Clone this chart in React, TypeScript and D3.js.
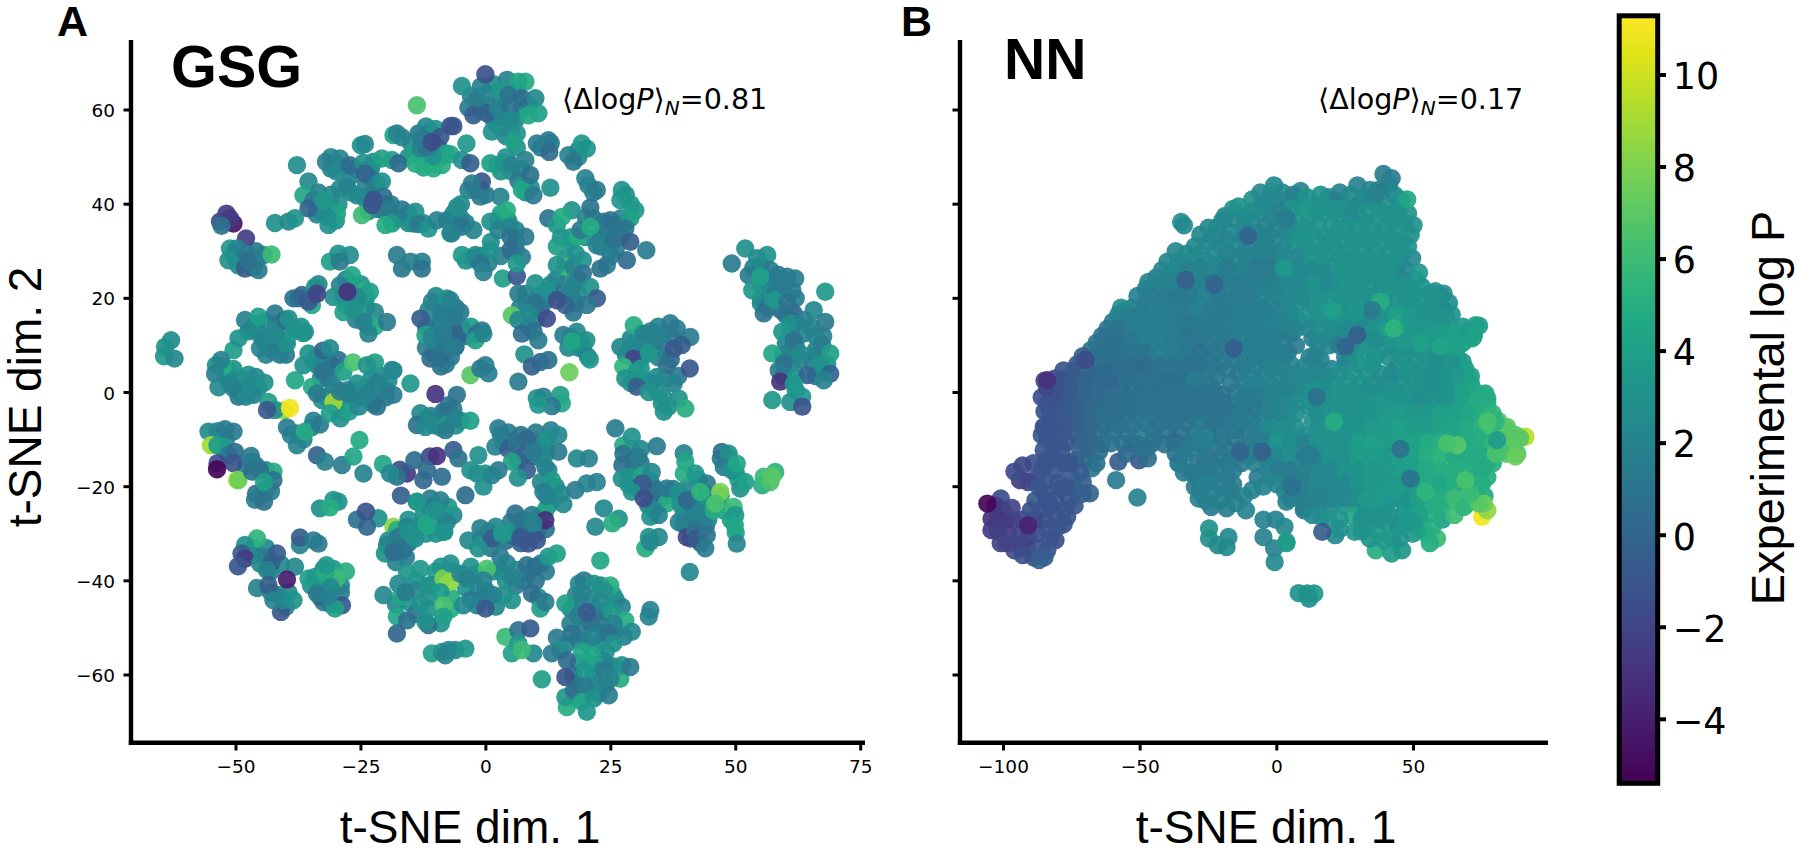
import React from "react";
import * as d3 from "d3";

type P = [number, number, number];

// Panel A (GSG): t-SNE dim 1, t-SNE dim 2, experimental log P. Hidden (under-layer) molecules first.
const gsgUnder: P[] = [
[-1,65,2],[1.5,65.5,2.5],[3,62,1.5],[6,64,3],[0,61,1],[-1,60,1.5],[1.5,58,1],[3.5,58.5,2],[6,58,2],[7,60,2.5],[8.5,61,2.5],[-3.5,60.5,1.5],[2.5,56.5,2.5],[5,55.5,3],[-3,63,2],[6.2,52,3],[4,54.5,2.5],
[-12,49.5,3],[-11,48.5,4],[-12.5,47.8,4.5],[-9.5,52,2],[-13.5,55,1.5],[-11,55.5,2],[-9,50,3.5],[-15,53,2.5],[-15.5,50,3],[-12,56.5,2.5],
[-31,47.5,2],[-28.5,48,2],[-31,50,2.5],[-26,47.5,1],[-23,47.5,1.5],[-22.5,49,3],[-23,45.5,1],[-24,44,2],[-27,46,2],
[-33.5,42.5,2],[-33,38.5,2.5],[-31,39.5,3],[-31,42,2.5],[-30,36.5,3],[-33.8,37.8,2.5],[-29.5,40,3],
[-27,42.5,2.5],[-24,41,2],[-23,42,1.5],[-21.5,39,.5],[-20,40,1],[-19,38,2],[-18,37,2.5],[-23.5,38.5,3],[-19,40,1.5],[-15.5,38,2],[-12.5,36,2.5],[-15.5,36,2.5],
[-50,28.5,2],[-48.5,27.5,1],[-46,28,1.5],[-46,30,1.5],[-46.5,26.5,1],[-49.5,27,2.5],[-50.5,29.5,2.5],
[-28,24,2],[-28.5,20.5,2.5],[-26.5,22.8,2.5],[-25,23,3],[-26,19,3],[-24,20,3],[-26,15.5,2],[-24,18,3],[-23.5,14,3],[-27,19,3.5],[-28,18.5,3],
[-37.5,20,.5],[-35,20,-.5],[-33.5,23,2.5],
[-46,14.5,2.5],[-44,15,2.5],[-42,14.5,2.5],[-41,13,2],[-39,13,2.5],[-40,11,2],[-37,14,3],[-43,11,2],[-45,12,2.5],[-47,13.5,3],[-41,10,2],[-44.5,11,2],[-44,8,2],[-42.5,9,1.5],[-40,8,1.5],[-47.5,13,2.5],
[-52,3.5,2.5],[-51,3,2.5],[-48,2,2.5],[-46.5,-.5,2],[-45.5,1,2.5],[-47.5,3.8,3],[-50,1.5,2.5],[-49,-.2,2],[-48,.5,2.5],[-50.5,5,3],[-52,5,3],
[-34.5,6.5,3],[-33.5,5.5,2],[-31.5,6.5,1.5],[-33,3,2],[-31.5,3,1],[-30.5,5.5,1],[-34,7.5,2.5],[-28.5,-.5,2],[-26.5,.5,2],[-24,1,2],[-23,2.8,2.5],[-21,3.5,2.5],[-20,.5,2],[-19.5,2.5,2.5],[-27.5,-2,2.5],[-25,-1,2],[-23,-1.5,2],[-30,-3,3],[-28.5,-4,3.5],[-26.5,-1.5,2],[-30.5,1.5,2],[-32,-1,2],[-22.5,-2.5,1.5],[-20,-1,1.5],
[-35,-7.5,2],[-36.5,-10,2.5],[-39,-9,2],[-34.5,-6,2],
[-12,-5.5,2.5],[-9,-5,2.5],[-9,-7.5,3],[-6.5,-3.5,1.5],[-8.5,-4,1.2],[-11,-5,2],[-6,-7,3],[-5,-6,3],
[-9,14,1.5],[-7,13.5,1.5],[-10,10,1],[-8,9,1],[-8,12,1],[-7,7.5,1.2],[-12,9.5,1.5],[-9,16,1.5],[-7,15,1.5],[-10,14,2],[-9,18,2],[-10,20.5,2.5],[-12,14,1],[-11.5,17.5,2],[-9,5.5,1],[-8,6,1.5],[-6,18,2],[-5,14,1],[-3.8,12,1.5],[-6,11,1],
[3,-9,1.8],[4.5,-8.5,1.5],[5,-10.5,.5],[7,-9,1],[3.5,-10.5,1.5],[10,-10.5,1.5],[10,-8.5,1.5],[12,-11.5,2.5],[9.5,-13.5,1.5],[11,-14,2],[12,-13,2.5],[13,-8,2],[12.5,-16.5,2.5],[6.5,-14.5,2.5],[13,-20,2.5],[12.5,-21,2],[15,-21.5,2.5],[11,-19,2.5],[14,-20,2.5],
[7.5,-27,1],[5,-27.5,1.5],[8,-29,.5],[10.5,-29,.5],[12,-29,1],[10,-30,.3],[5.5,-30.5,1.5],[4,-31.5,.5],[-1,-31,2.5],[.5,-29.5,1],[2.5,-31,2],[2,-28.5,2.5],[7,-32,0],[10.5,-26.5,2],[12.5,-24,3],[1,-33,1.5],
[-17.5,-32.5,1],[-15.5,-32,1.5],[-14,-29,3],[-12,-30,3],[-10,-30,3],[-12.5,-26,3],[-11,-25,2.5],[-9.5,-28,3],[-8.5,-26,3],[-13,-28,3],[-15.5,-27,3],[-10.5,-24,3],[-6.5,-26,2.5],[-16,-35,1.5],[-18,-36,2],
[-48,-15.5,1.5],[-47,-13.5,1.5],[-46,-15.5,1.5],[-44,-16.5,2],[-44,-20.5,2],[-44.5,-21.5,2],[-46,-21.5,1],[-43,-21,1.5],[-52,-10,2.5],[-52.5,-12,3.5],
[-46.5,-33,3],[-44,-33,2.5],[-46.5,-34.5,2],[-44,-35,1.5],[-43,-38,2],[-41,-36.5,2.5],[-41.5,-43,2.5],[-43,-42.5,1.5],[-40,-45.5,2],[-39.5,-42.5,2.5],
[-33.5,-40.5,3],[-31,-40,3.5],[-32.5,-37.5,2.5],[-30.5,-37.5,3.5],[-35,-41,3],[-29,-41,2.5],[-32.5,-44.5,1.5],[-31,-45,1],[-28,-38,5],[-29,-42.5,2],
[-14,-40,3],[-15.5,-44.5,3],[-18,-45,2.5],[-14,-47,1],[-14,-42,2.5],[-11.5,-41,3],[-10,-38,3.5],[-11.5,-46,3],[-11.5,-43.5,3],
[-9,-37,3],[-7,-43.5,5],[-7,-46,5],[-6.5,-38,4],[-9,-49,3],
[-4,-41.5,3],[-3,-37,3],[-1.5,-42,2.5],[0,-42,2],[1.5,-38,3],[3,-38,2.5],[-3,-44,1.5],[0,-43.5,1.5],[2,-45.5,2.5],[3.5,-43,3],[6,-41,1.5],[7.5,-40,1.5],[8.5,-38.5,1],[10,-40,1],[12,-38,1.5],[-2,-38.5,3],[4,-40,3],[10.5,-43.5,3],
[18,-43,2],[17,-46,2],[18.5,-47.5,1],[21,-44,2],[21.5,-47,.5],[23.5,-46.5,1.5],[20,-49.5,1.5],[18.5,-52.5,1.5],[21,-49,1],[23,-49,1],[20,-53,2],[16,-53.5,2],[22.5,-53.5,3],[24,-55,3],[23,-41,2.5],[25.5,-43,3],[26,-44,3],[18,-45,2],[23.5,-51,1.5],[26,-50.5,1.5],
[21,-57.5,3],[18.5,-57.5,3],[21.5,-60,3],[17.5,-60,1],[22,-62,2.5],[18,-61.5,1.5],[24,-62,2],[21,-63,3],[18,-65,3.5],[22.5,-64,2.5],[23.5,-57,2.5],[26,-58.5,2.5],[25,-58,2],
[29,-12,3],[31,-12,2.5],[29.5,-14,1.5],[31,-15,1.5],[29.5,-16,1.5],[28.5,-19.5,3],[30,-18,2.5],[33,-19,1.5],[33.5,-21,.5],[34,-23,1.5],[30.5,-20.5,2],[29.5,-18.5,3.5],[32.5,-24,2.5],[36,-21.5,2],[34,-20.5,1],
[37.5,-20.5,2],[40.5,-20,2],[41,-23,2],[39.5,-25,2.5],[42,-24,3],[43.5,-23,2.5],[42.5,-18.5,3],[41,-26.5,2],[44,-21.5,3],[39.5,-28,1.5],[44,-28.5,1],[42.5,-27.5,1.5],[41,-31,-1],[43,-32,.5],[47,-22,5],[47.5,-25,4],[44,-25,3],[44.5,-27,2],
[48.5,-14.5,3],[47,-14,1.5],[50,-17,3],[50.5,-18.5,4],[48.5,-14,2.5],[49,-15.2,3.5],[49,-27,4],[50,-29.8,4],
[53.5,26.5,2],[55,27,2],[56,24,2],[57.5,23,2],[58.5,25,1.5],[59.5,23.5,1.5],[56,22,2],[55,20,3],[58,21,1.5],[55,19,2.5],[55,23,2.5],[62,20,1.5],[60,16.5,.5],[56.5,18,1],[59,17.5,1],[61,13,2],[62,15,1.5],[60,10.5,2],[62,10,2],[63,7,2],[60.5,8.5,2],[59.5,8,2],[61,6,2],[59.5,3.5,1],[65,14,2],[66,12,2],[67.5,12,2],[66,8,2],[66,9,2],[65.5,6,2],[67,7,2.5],[68.3,6,3],[66,3.5,1],[62,3.5,3],[62,.5,3],
[33,13,2],[34.5,14,2],[32,10,2.5],[33.5,9.5,2],[35.5,12.5,2],[35.5,9,1],[37.5,11.5,1.5],[34.5,7.5,2],[31,7,2.5],[29,11.5,2.5],[30,11,2.5],[31,12.5,3],[30,9,2],[28,8,2],[36,3,2],[34.5,0,3],[35.5,-1,3],[36.5,-3,3],[33,2,2.5],[31.5,3,3],[29,2,3],[30,3,3],[38.5,3.5,1.5],[37,7,.5],
[16.5,9.5,2.5],[18.5,9.5,3],[19.5,9.2,2.5],[17,11.8,2.5],[19,10.8,3],
[14,24,2],[13,23,2.5],[12,19.5,1.5],[10.5,20.5,1.5],[8,21,2],[8,19,2],[11,17.5,1],[10,15.5,1.5],[8.5,14,1.5],[9.5,13,1],[6.8,18,2],[15,21,1],[17.5,22.5,2.5],[18.5,20.8,2.5],[18,19,1],[17.5,17,1],[16.5,24,2],[16,28.5,3],[18.5,24,2],[18,29.5,3],[17,32,3],
[15,33,3],[17,33,3.5],[20,33,2.5],[20,37.2,2],[23,33,2],[24.5,34.5,1.5],[26,35.5,1],[23,34,1.5],[21.5,37,1.5],[23,31,1.5],[26,30.5,1.5],[27,33,1.5],[28,36,3],[29,40,3.5],[28,42,3],[21.5,42.5,2],[20.5,44,2],[18.5,50,2.5],[18.5,51.5,3],[13,53,1.5],[11,52,1.5],[25,29,1.5],[24,31.5,2],[27,37,2],
[1,32,3],[3,29,2],[6,30.5,1.5],[4,37,3.5],[4.5,36.5,3],[2.5,36.5,3],[3,38,4],[6,34.5,2],[-1,29,3],[-2.5,28.5,3],[-4,28,3],[.5,27.5,2],[6,32,2],[5,47,3],[4,50,3],[3,47,3],[7,47.5,2],[6.5,45,1.5],[8,42.5,2.5],[9,43.5,3],[7.7,44,3.5],[-1,43,1],[-2,43,1],[-3.5,43,2],[0,42,1.5],[-5,40,2.5],[-6.5,37,2],[-5,37,2],[-4,36,2],
];

const gsgPoints: P[] = [
[-64.4,7.7,3.5],[-63,11.1,2.6],[-62.3,7.2,2.5],[-64.2,9.7,3],
[-52.5,5.6,5],[-54,5.8,3],[-50.5,9,4],[-49.5,11.5,3],[-53,6.9,2],[-54.2,4,2],[-53.5,1.1,2.5],
[-49,3,3],[-50.5,.9,2],[-49.5,-.9,1.5],[-47,1.2,2.5],[-46,3.3,2.5],[-44.3,2.1,3],[-48,-.9,2.5],[-51.2,1.9,2],
[-43.8,9.7,1.5],[-45.2,9.4,2.2],[-41.2,8,1.8],[-39.8,10.4,3],[-42.6,12.1,2.5],[-36.5,12.6,3],[-38.5,13,4],
[-38.2,2.6,4.5],[-40.5,-3.8,8.5],[-43.5,-2,4],[-42.2,-3.7,2.8],[-43.8,-3.7,-.8],[-39.2,-3.3,11],
[-39.8,-7.4,1.5],[-37.8,-11.2,2],[-37.8,-8.7,2],[-36.2,-8.3,4.8],[-33.2,-6.8,1.5],
[-36.5,5.8,3],[-35.5,8.3,3],[-32.6,8.9,0],[-29.5,6.9,.5],[-32.6,4.4,1],[-31.2,9.4,2.5],
[-34.8,1.2,4.8],[-32.8,-1.6,3],[-33.8,-.2,1.5],[-28.5,4.4,4],[-26.6,6.4,6.5],[-22.2,6.4,4],[-23.8,5.8,3],[-18.8,4.8,2.8],[-15.1,1.9,3.5],
[-30.5,-2,9],[-26.2,-1.3,1.5],[-29.2,.2,1.5],[-25.8,1.9,3],[-21.8,1.9,2],[-21.8,-3,1],[-18.5,-.5,1.5],[-27.8,.5,1.8],[-23.6,-.2,2],
[-31.2,-4.4,4],[-29.1,-5.5,3],[-27.4,-4.1,4],[-25.4,-3,2.5],
[-5.8,-.5,1],[-7.5,-2.7,1],[-13.1,-4.4,2.5],[-13.8,-6.9,1],[-10.5,-6.9,2.5],[-7.8,-6.9,3.5],[-6.1,-5.5,2],[-3.1,-6,4],[-8.1,-8,1.5],[-12.1,-7.3,2.5],[-10.1,-.3,-2.8],
[-8.8,10.8,1],[-10.5,12.2,2.2],[-10.5,8.3,1.5],[-11.1,7.2,.5],[-9.1,7.2,.6],[-6.1,9.7,1],[-5.8,12.5,0],[-7.1,9.7,1.5],[-4.8,12.5,0],[-6.5,16.1,1.5],[-5.1,17.1,1.5],[-3,14,3.5],[-.8,13.2,1.5],[-1.8,12.5,.5],[-2.1,11.1,4],[-.5,12.5,2],[-6.1,9.7,1.5],
[-3.1,3.7,7],[-1.1,5.1,1.5],[.5,4.1,1.8],[-.1,5.8,1.5],[7.7,8.1,3],[6.5,2.3,1.5],[9.2,5.5,-.3],[10.9,6.5,.2],[12.5,6.9,.8],[16.7,4.3,7.5],
[10.2,-1.2,3],[14.9,-.5,4],[15.2,-2.3,4.5],[13.2,-2.9,1.5],[11.5,-.9,2],[10.5,-2.6,3.5],
[2.5,-7.6,1.5],[1.9,-11.5,2],[4.5,-12,-.3],[6.2,-10.8,1],[7.9,-13,-.3],[8.2,-9.8,.2],[9.5,-12.6,1.5],[12.2,-9.8,3],[14.5,-9,2.5],[14.5,-12.6,1.5],[11.9,-15.8,2],[13.2,-18.6,3.5],[11.5,-21.1,1.5],[13.2,-22.9,3],[15.5,-23.7,2.5],
[5.2,-14.7,4],[8.2,-16.5,-.5],[6.4,-18.1,3],[18.2,-14,2.5],[20.6,-14,2],[17.9,-20.7,1.5],[20.2,-19.3,2],[22.2,-19,2],
[11.9,-25,4.5],[9.2,-26,1.5],[5.9,-25.7,1],[6.9,-28.5,1],[11.9,-27.1,-3.2],[-1.1,-28.8,2],[-3.5,-31.4,2.5],[4.2,-29.6,3.5],[9.5,-27.8,2],[7.2,-31,-1],[1.2,-31,-.5],[6.9,-30.7,-.6],[8.5,-32.1,-1],[10.2,-31.4,-1],[-1.5,-33.1,3],[3.2,-30,3.5],
[-33.8,-13.3,-.3],[-32.2,-14.7,2],[-28.8,-15.4,1.5],[-26.5,-13.6,4.5],[-25.3,-10.1,4.7],[-24.5,-17.2,2],
[-20.6,-15.2,4.5],[-15.8,-17.2,-2.5],[-17.2,-16.4,-1.2],[-17.8,-17.9,1],[-19.2,-17.2,2.5],[-14.3,-14.4,.5],[-11.2,-13.6,-1.5],[-9.8,-13.5,-3],[-11.8,-16.5,.6],[-12.5,-18.6,.2],[-8.8,-17.9,.5],[-6.5,-12.2,-.5],[-5.5,-14,1],
[-17,-21.9,-.3],[-4.1,-21.8,.5],[-1.8,-17.2,2.5],[-1.5,-13.3,3],[-.1,-17.2,3.5],[-.5,-20,3],[-3.1,-16.5,3],[2.5,-16.5,1.5],[1.2,-17.6,2],
[-55.5,-8.3,2.6],[-53.7,-8.2,2.2],[-50.5,-8.3,1.5],[-52.2,-7.8,1.5],[-55,-11.2,9],[-53.7,-11.2,3.8],[-51.5,-13.3,1.2],[-50.2,-12.6,.5],
[-53.7,-15,-1.5],[-50.5,-15,-1],[-53.8,-16.3,-5.2],[-49.8,-18.6,9.5],[-49.5,-18.6,7.5],
[-46.8,-14.7,1.5],[-46.8,-16.8,.8],[-42.5,-16.8,5],[-42.5,-18.6,1],[-45.2,-16.5,1],[-44.4,-19,4],[-46.2,-22.8,1.5],[-44.4,-23.2,1],
[-33.2,-24.6,3],[-30.5,-22.8,3.5],[-29.5,-23.2,3],[-31.2,-24.4,5],
[-25.8,-27,1],[-21.5,-26.7,3],[-23.8,-28.5,.2],[-24,-25.3,-1],
[-18.5,-28.5,8.5],[-17.8,-29.2,5],[-15.8,-28.5,2],[-17.2,-30.7,1.5],[-14.1,-31,3],[-19.5,-31.4,3],
[-9.8,-25,3],[-11.1,-22.5,1.5],[-13.8,-23.2,3],[-7.5,-24.3,3.5],[-9.1,-22.9,2],[-7.8,-27.5,2],[-8.3,-29.6,3.5],[-11.8,-28.2,5],
[-37.8,48.3,2.8],[-32,49,2],[-30.2,48.7,1.5],[-29.2,49.7,2],[-29.8,46.9,2.5],[-27.2,48.3,.5],[-25,52.5,3],[-24.2,52.8,2.5],[-24.5,48.8,3],[-24.2,46.5,0],[-21.8,44.4,1.5],[-20.8,44.8,3],
[-20.8,49.7,4],[-18.8,49.4,4],[-17.5,48.7,.5],[-18.5,54.7,4.5],[-17.8,55,2],[-16.8,54.2,2],[-13.8,61,6.5],
[-10.1,56,3],[-14.5,50.8,4],[-14.1,48.6,5],[-10.5,47.6,5],[-8.8,48.3,5],[-8.1,50.8,4],[-10.5,50.2,3],[-13.1,51.8,2],[-11.8,52.2,1],[-12.8,53.9,1.5],[-9.1,54.3,-.8],[-10.8,53.2,-1.5],[-7.1,56.6,-1],[-6.5,56.6,-1],
[-35.5,44.8,2.5],[-36.5,41.9,4.5],[-34.5,40.9,1.5],[-35.5,39.1,0],[-29.8,38,4.5],[-31.8,37.3,2.5],[-31.5,35.6,3],[-32.5,40.9,3.5],
[-29.2,43.3,2.5],[-27.8,43.7,2],[-25.8,41.9,2.5],[-24.8,37.7,6],[-20.5,41.6,.5],[-20.5,38.7,1.5],[-22.5,40.9,-1],[-22.8,39.8,-.9],[-18.8,35.9,3.5],[-20.1,35.6,4.7],
[-16.8,38.9,1.5],[-14.1,38.4,3],[-14.5,35.9,3],[-13.5,35.8,1.5],[-11.5,34.8,3.3],[-9.8,36.6,2],[-7.8,36.6,1.5],[-7.1,33.8,3],[-6.5,38,2],[-4.8,35.2,1],[-2.5,34.5,2],[-6.8,33.8,2],
[-50.5,35.9,-4.5],[-51.9,38,-2.2],[-53.2,36.3,-2],[-51.2,37,-2.5],[-52.9,35.4,1],[-48,32.7,-2.3],
[-42.2,36,3],[-39.5,36.3,2.5],[-38.2,37,3],
[-51.2,30.6,3.5],[-49.8,30.6,2],[-51.5,28.1,3],[-48.2,26.3,-.5],[-45.5,26,1.5],[-47.9,29.5,1.5],[-47.5,28.1,.8],[-44.5,29.2,1.8],[-42.9,29.3,6],
[-31.2,27.8,4],[-29.5,29.5,3],[-27.2,29.2,2.8],[-29.2,27.8,1.5],[-17.8,29.2,1.5],[-16.8,26.3,1.2],[-15.1,27.8,1.8],[-12.8,27.8,2],[-12.8,26.3,1],
[-26.8,24.9,4.5],[-29.2,22.8,2],[-30.5,20.3,3],[-24.5,21.7,5],[-23.2,21.4,4],[-25.8,20.3,2.5],[-27.7,21.4,-3],
[-28.5,17.1,4],[-26.5,17.5,3],[-22.2,17.1,2.5],[-22.2,14,5],[-24.5,15,2],[-19.8,15,1.5],[-23.5,12.5,2],
[-38.5,20,.8],[-36.8,20.7,0],[-34.8,18.6,4.5],[-35.5,19.3,-.8],[-34.2,22.4,3],[-33.8,21,-2],
[-48.2,15.4,2],[-45.5,16.1,4],[-42.2,16.8,1.5],[-40.2,15.4,.5],[-39.5,15.7,3],[-38.2,13.6,3],[-36.2,12.9,3.2],
[-13.1,15.7,-.5],[-10.8,19.3,2],[-7.8,20,3],[-8.5,16.8,1.5],[-7.1,19.6,2],[-12.1,12.2,4],[-10.8,11.8,2],[-8.5,12.5,1.5],[-18.5,4.7,2.5],
[-.1,67.6,-1.2],[-4.8,65.1,3],[4.2,66.4,2],[7.9,66,4.7],[6.5,66,4.5],
[-1.8,62.1,1.5],[.2,63.5,2],[2.9,64.2,3.5],[4.5,63.2,1],[7.2,62.5,.5],[9.9,62.5,2.5],[-2.5,58.9,-.5],[.2,59.3,-.2],[2.5,60.3,2],[4.9,60.7,.8],[10.5,59.3,4],[8.5,58.9,4.5],[4.9,57.9,2.5],[1.2,55.4,3],[6.2,55,3],[5.5,53.3,4],
[-3.9,52.9,3.5],[-7.1,50.6,4.5],[-4.8,49.4,3],[-3.1,48.7,-.3],[.9,48.7,4],[2.2,48.3,4],[3.5,48.7,3.3],[5.2,48.3,2],[7.9,49.4,2],[8.9,46.2,.8],
[10.2,52.9,1.5],[12.5,53.6,1.5],[12.7,51.1,.3],[16.5,50.4,2],[17.5,49,1.2],[19.2,52.9,3.5],[20.2,51.8,3],
[-.8,44.8,-.8],[-2.8,44.4,1.5],[-1.1,41.6,1.5],[7.2,43,4.5],[9.5,41.9,1.5],[12.9,43.5,3],[19.9,45.5,2],[22.2,43,1.5],[-5.8,39.4,2.8],[2.9,41.6,2],[4.2,38.7,5],
[27.2,43,3],[26.9,40.9,3.5],[20.9,39.3,1],[29.9,38.7,3.5],[28.9,37,4],[12.5,37,1],[17.2,38.7,3],[14.2,35.6,3.5],[15.2,37.3,4.7],
[18.5,33.1,5],[18.9,34.5,1.5],[23.6,36.3,1.5],[24.9,36.6,.8],[22.2,31.3,2],[25.5,32.4,1],[27.9,34.8,1],[28.9,32,-.5],[32.1,30.2,1.5],[28.2,28.1,.3],[24.2,27.1,1.5],[22.9,26.3,1],[14.2,31,4],[20.9,35.2,5],
[.9,36.3,3],[4.9,35.2,2.5],[2.5,34.5,2],[4.9,33.1,.8],[7.9,33.1,1.5],
[-4.8,29.2,3.5],[-2.1,29.2,2.5],[.9,30.2,3],[-1.1,27.4,1],[-.5,25.6,2],[3.4,24.2,4],[6.2,24.7,-.8],[4.9,30.2,.5],[7.2,28.8,1.5],[6.2,27.4,3.5],
[15.9,26.7,6],[14.2,27.1,3],[17.5,26.7,2],[19.4,28.1,3],[19.4,25.3,1],[20.9,22.4,3],[22.2,20,-.5],[20.2,18.6,1.2],[16.9,21,2],[15.9,18.6,0],
[6.5,21,1.5],[9.9,23.2,3],[12.2,21.7,3],[9.9,18.9,1],[14.2,19.6,-1.2],[12.2,15.7,-1.5],[8.5,16.8,2.5],[5.2,16.4,7],[6.5,15.4,2.5],[7.2,12.5,.5],[10.5,11.1,1.5],
[15.5,12.2,1.5],[18.2,12.9,2.5],[20.1,11.1,3],[17.2,10.8,4.5],[20.4,7.6,2],[20.8,7,3.5],
[29.6,14.3,5],[28.9,9.7,2.5],[31.6,12.5,2],[26.9,9.7,2.5],[29.6,7.2,-2],[34.2,11.8,2],[36.9,14.7,1.5],[38.2,13.6,1.5],[40.9,11.8,1.5],[39.2,10.1,-.3],[37.6,9.3,-.8],[36.2,5.8,.8],[40.8,5.1,-.8],[37.6,1.9,2],[38.6,-1.3,3],[39.9,-3.4,5],[35.6,-4.1,3],[35.2,-2.3,3],[27.5,5.5,5.5],[30.2,4.4,3.5],[27.9,3,3],[30.2,1.2,-.5],[32.6,.1,3],[34.2,3.3,2.5],[31,5.1,3.5],[32.6,8.3,3.5],
[51.9,30.6,3],[49.2,27.4,1.5],[54.3,28.5,2.5],[56.3,29.2,3],[52.6,24.9,1.5],[53.3,21.7,3.5],[56.9,26,1.5],[60.3,24.6,1.5],[61.9,24.2,1.5],[59.6,21.7,1.5],[61.3,21.7,1.5],[54.9,24.6,4],[57.6,19.6,3.5],[67.9,21.4,3.5],[55.6,16.8,1],[61.6,16.8,0],[60.3,18.9,1],
[60.9,14.7,3],[59.3,12.9,3.5],[65.6,17.5,2.5],[67.9,15,1.5],[63.6,15.4,2],[63.6,12.5,2],[61.6,11.1,1],[57.3,8.3,4.5],[67.3,10.1,1.5],[68.9,8.3,4],[66.9,5.8,3],[68.9,4,0],[64.3,3.7,0],[67.6,2.6,2],[59.6,6.2,1],[58.6,4.7,1.5],[62.9,8.3,2.5],
[58.9,2.3,-3],[61.6,1.9,3.5],[63.3,-.9,3.5],[60.9,-2,3],[57.3,-1.6,3.5],[63.3,-3,-1],
[-45.8,-31,5.5],[-48.2,-32.4,3],[-48.9,-34.2,-.5],[-48.2,-35.3,-2.5],[-49.6,-36.9,-1],[-41.8,-34.2,-.5],[-45.2,-36.3,2.5],[-42.9,-36,-.3],[-43.8,-37.7,2],
[-45.8,-41.5,2],[-43.5,-40.9,-.5],[-41,-46.6,-.8],[-42.5,-44.1,2],[-40.5,-44.1,2.2],[-38.5,-44.1,3.2],[-38.2,-37,2.5],[-39.8,-39.7,-4.2],
[-37.2,-32.4,2],[-37.2,-30.8,-.5],[-34.5,-31.4,1.5],[-33.5,-32.1,1.5],
[-29.9,-39.5,6],[-35.5,-39.5,4],[-34.2,-39.2,3.5],[-32.2,-38.3,5],[-31.1,-41.3,2.5],[-33.2,-43.4,-.3],[-33.8,-42.7,1.5],[-28.8,-45.2,-.8],[-30.2,-45.9,4],[-31.5,-43.4,2],[-31.9,-36.7,3.5],
[-20.5,-43,2.5],[-17.5,-40.6,2.5],[-15.8,-38.1,3.5],[-13.1,-37.5,3.5],[-17.1,-43.4,4.5],[-16.1,-42.4,1.5],[-13.1,-44.8,3],
[-17.8,-47.6,4.5],[-15.8,-48.4,1],[-17.8,-51.2,0],[-11.5,-49.4,.5],[-12.1,-48.7,3],
[-10.8,-40.9,3],[-8.5,-39.5,8],[-7.1,-40.2,8.5],[-9.1,-42.4,3.7],[-8.5,-45.2,6.5],[-8.5,-47.6,4],[-7.1,-36.3,3],
[-10.8,-55.4,4],[-8.8,-55.1,3],[-7.5,-54.7,2.5],[-8.1,-55.8,2],
[-19.8,-32.4,2],[-17.5,-30.7,1.5],[-15.5,-29.6,3],[-20.2,-34.2,3],[-16.5,-33.5,1],[-18.5,-33.9,.5],[-14.5,-30.7,3],[-11.8,-27.8,4.5],[-10.1,-25,3],[-8.5,-29.6,3],[-13.8,-23.2,3.5],
[-5.1,-38.5,2.5],[-3.8,-39.5,2],[-4.5,-45.2,2.5],[.2,-37.4,6.5],[2.9,-34.9,1.5],[4.2,-36.3,2],[6.2,-37.7,2.5],[8.2,-36.7,1],[9.9,-37,.5],[11,-36.3,1],[12.5,-34.9,3.5],[14.2,-34.2,4],[5.2,-39.2,2],[-.5,-39.9,2],
[1.5,-43,2],[-1.8,-45.2,2],[-.1,-45.9,-.8],[5.2,-44.1,3],[9.2,-42.7,.6],[10.9,-45.9,4],[11.9,-44.5,1.5],
[3.9,-51.9,6],[6.5,-50.5,.8],[8.9,-50.1,-.5],[6.5,-53.3,3.5],[5.2,-55.4,4],[9.5,-55.4,2.5],[7.2,-54.7,6],[-6.1,-54.7,2.5],[-4.1,-54.4,3.5],[11.2,-60.9,4],
[15.9,-44.8,4],[18.6,-40.6,2.5],[19.6,-39.9,1.5],[21.6,-40.6,3],[24.9,-41,5],[23.6,-42,3],[19.2,-42.7,2],[27.2,-45.5,2],[32.9,-46.2,2],[32.6,-47.6,2],[22.9,-44.5,2.5],[20.2,-46.6,-.6],[25.2,-46.6,3.5],[27.9,-48.4,5],[25.6,-49.1,2],[29.2,-50.8,2.5],[27.6,-51.9,2],[16.9,-49.1,2],[14.2,-52.1,1.5],[17.2,-51.2,1],[21.6,-51.9,2],[24.6,-51.2,1],[14.9,-54.7,3],[13.2,-55.4,1.5],[19.2,-55.1,4.5],[21.2,-55.8,4.5],[25.5,-53.3,3],
[16.2,-56.9,.3],[19.9,-59,3.5],[26.9,-60.8,5],[23.6,-59,1.5],[24.9,-60.8,2],[27.2,-57.9,3],[28.9,-58.3,1.5],[15.9,-60.4,-1],[16.2,-66.8,5],[15.9,-64.7,3.5],[17.6,-63.2,.5],[19.9,-62.5,1.5],[19.2,-65.7,4.5],[21.6,-65,3],[20.2,-67.8,3.5],[24.6,-64.3,1.5],
[25.9,-7.6,1.5],[27.5,-11.2,5],[29.2,-9.4,3],[34.2,-11.4,1.5],[27.5,-13,1],[30.5,-13.7,1.5],[27.3,-15.4,.8],[28.6,-17.9,3],[31.3,-17.6,4.5],[27.2,-18.3,3],[33.2,-16.9,2.5],[31.3,-19.3,-.8],[29.2,-21.1,3],[35.2,-22.2,1],[36.2,-23.6,5],[33.6,-25,2.5],[32.9,-26.4,3],[34.6,-26,2],[31.6,-22.5,-1.5],
[36.2,-20.4,1.5],[39.6,-12.9,2],[39.9,-14.7,4.5],[39.6,-17.2,5],[41.9,-17.2,3.5],[38.6,-21.4,3],[38.9,-23.6,3],[40.2,-22.9,.2],[42.6,-25.7,2],[44.2,-19.3,1.5],[42.9,-21.1,5.5],[38.6,-27.5,2],[40.2,-30.7,-1.8],[41.9,-29.2,1],[42.2,-31,-.8],[44.2,-30.3,1],[43.9,-33.1,1.5],
[46.9,-21.1,8],[45.6,-25,5],[45.9,-23.6,6.5],[49.6,-24.3,6],[49.9,-26,3.5],[49.8,-28.2,4.5],[50.2,-32.1,2.2],[40.8,-38.1,2.5],
[31.9,-33.1,5],[32.6,-30.7,3],[34.6,-30.7,2.5],[32.9,-31.7,2.5],[21.9,-28.5,2.5],[23.6,-24.6,2.5],[26.6,-26.8,3],[25.3,-27.8,5],[22.9,-35.7,4.5],[12.2,-22,2],
[47.2,-12.6,.8],[48.6,-13,3],[47.6,-15.8,1.5],[49.2,-16.5,3],[50.2,-15.1,4.5],[50.9,-20.4,3],[51.9,-19,4],[55.3,-19.7,5],[57.9,-16.9,5.5],[55.6,-17.9,6],[56.9,-19,6.5],[57.3,-17.9,7],
];

// Panel B (NN)
const nnPoints: P[] = [
[39,46.4,1.5],[42,45.5,1.5],[41,44,2],[-1,44,2.5],[-2,42.5,3],[8.7,42.8,2],[29.5,44,2],[34,43,2],[37,43,2],[38,42.5,1.5],
[-9,41,3],[-5,40,2.5],[0,41,2],[4,40.5,2.5],[9,40,2.5],[14,40,3],[19,41.5,2.5],[21,41,2],[25,39.5,3],[30,40,2],[35,40.5,2.5],[40,40,3],[45,39.5,3],
[-16,39,3],[-12,37.5,3],[-6,38,3],[-1.5,37,2],[3,37.5,2],[7.5,36.5,3],[12,37,3],[17,38,3.5],[23,37,3],[27,37,3],[32,36.5,3],[37,37,3.5],[42,36.5,3],[47,36,3],[50,35.5,3],[49,33.5,3],
[-35,36.2,2.8],[-34,35.5,2.5],[-22,35,2.5],[-17,34,2.5],[-12,35,2.5],[-7,34,2],[-3,33.5,1.5],[3,34,2.5],[8,33.5,3.5],[13,34,3],[18,33,3],[22,34,3],[27,33.5,3],[32,33,3.5],[37,33.5,3.5],[42,33,3],[46,32,3],
[-25,32,2.5],[-30,31,2.5],[-20,31,2],[-14,31,2.5],[-9,31,2],[-4,31,2.5],[1,30,2.5],[6,31,3],[11,30.5,3],[16,30,3],[21,31,3],[26,30,3],[31,30.5,3],[36,30,3],[41,30,3.3],[46,29.5,2.5],[49.5,28.5,2.5],
[-40,27.8,2.5],[-36,28,2.5],[-31,28,2.5],[-26,28,2.2],[-21,27.5,2.5],[-16,28,2],[-11,28,2],[-6,28,1.5],[-1,28,1],[4,27,3],[9,27.5,2.5],[14,27,3],[19,27,3],[24,27.5,3],[29,27,3],[34,27,3],[39,27,3],[44,26.5,3],
[-44,24.5,2],[-39,25,2.5],[-34,25,2],[-29,25,2],[-24,25,1.5],[-19,25,1.5],[-14,25,2],[-9,25,1.5],[-4,25,1.5],[1,25,2],[6,24.5,3],[11,24.5,2.5],[16,24.5,2.5],[21,24,2.5],[26,24.5,3],[31,24,3],[36,24.5,3],[41,24,3],[46,24,3],[51,24,3.5],
[-48,22,2],[-43,22,1.5],[-38,22,1.5],[-33,22,1.5],[-28,22,2],[-23,22,1],[-18,22,1.5],[-13,22,1.5],[-8,22,1.8],[-3,22,2],[2,22,2],[7,21.5,2.5],[12,21.5,3],[17,21.5,3],[22,21,3],[27,21.5,3],[32,21,3],[37,21,3],[41,21.5,3.5],[46,21,3],[50,21,3],[56,21,3],[60,20.5,2.5],
[-53,18,2],[-57,18,2.8],[-55.5,17.5,2.8],[-48,19,1.5],[-43,19,1.5],[-38,19,1],[-33,19,1.5],[-28,19,2.5],[-23,19,1.5],[-18,19,1.5],[-13,19,1.5],[-8,19,1.5],[-3,18.5,1.5],[2,19,2],[7,18,3],[12,19,3],[17,18,3.5],[22,18,3.5],[27,18.5,3],[32,18,3],[41,18,3],[46,18,3.5],[51,18,3.5],[56,18,3],[61,17.5,2.8],[64,16.5,3],
[-60,15,1.5],[-56,15,1.5],[-51,15.5,1.5],[-46,16,1.5],[-41,16,2],[-36,16,1.5],[-31,16,1.5],[-26,16,1.5],[-21,16,1.2],[-16,16,1.5],[-11,16,2],[-6,16,1.5],[-1,15.5,2],[4,15.5,2],[9,15,2.5],[14,15,2.5],[19,15,3],[24,15,3],[29,15,3.5],[33,15,3],[38,15,3.5],[43,14.5,4.5],[48,15,3.5],[53,15,3.3],[58,15,3],[63,14,4],[68,14,3.5],[74,14.2,3.8],[72,12.5,4],[71.5,11.5,4.2],
[-64,12,1.2],[-60,12,.5],[-55,12,1],[-50,13,2],[-45,13,1.5],[-40,13,1.5],[-35,13,1],[-30,13,1.3],[-25,13,1.5],[-20,13,1.5],[-15,13,1.5],[-10,13,1.5],[-5,13,1.7],[0,12.5,1.5],[5,12.5,1.5],[13,11.5,2],[19,12,2.5],[24,12,1.5],[29,12,1],[34,12,2.5],[40,12,3],[45,12,4],[50,12,3.8],[55,12,4],[60,11.5,4.5],[65,11,4.5],[68,10.5,4],
[-68,9,1.2],[-64,9,1],[-60,9,.8],[-55,9.5,1.5],[-50,10,1.5],[-45,10,2],[-40,10,1.5],[-35,10,1.5],[-30,10,1],[-25,10,1.5],[-20,10,1],[-15,10,2],[-10,10,1.5],[-5,10,2],[0,9,1.5],[4,8.5,1.5],[14,8,2],[26,9,1.8],[29,9,3],[34,9.5,4],[38,9,3],[44,9,2.5],[48,9,3],[52,9,3.2],[57,8.5,3],[61,8,3],[66,7.5,3.5],[68,6.5,3.5],
[-73,6,-.5],[-70,7,0],[-65,6,.5],[-60,6,.5],[-55,6.5,.8],[-50,7,-.3],[-45,7,1],[-40,7,1.5],[-35,7,1.5],[-30,7,.5],[-25,7,1],[-20,6.5,1.5],[-15,7,1.3],[-10,7,1.5],[-5,7,1.5],[0,6.5,2],[5,6,2],[10,5.5,2],[15,5,2],[20,5,2],[25,6,2.5],[30,6,3],[35,5.5,3],[44,5.5,3],[49,5,3],[54,5.5,3],[59,5.5,2.5],[64,5,3],[69,5,4],
[-85,2.5,-2],[-81,3,-1.5],[-77,3,-1],[-72,3,-.3],[-67,3.5,.5],[-62,3,0],[-57,3,.5],[-52,4,.8],[-47,4,1],[-42,4,.8],[-37,4,.5],[-32,4,1],[-27,4,2],[-22,3.5,1],[-14,4,1.3],[-9,3.5,1.8],[-4,4,2],[1,3,2],[6,2.5,2],[11,2,2.5],[16,2,2.5],[21,2,3],[26,2.5,3],[31,2,3],[36,2,2.5],[41,2,2],[46,2.5,3],[51,2,3],[56,2.5,3],[61,2,2.7],[66,2,3.5],[71,2,4],
[-86,-1,-1.3],[-82,0,-1.3],[-78,.5,-1],[-73,.5,-.8],[-68,.5,.2],[-63,.5,.2],[-58,.5,.5],[-53,1,.8],[-48,1,.7],[-43,1,.5],[-38,1,1],[-33,1,.8],[-28,1,1],[-23,.5,1.2],[-15,0,1.5],[-10,.5,2],[-5,1,2],[0,0,2],[5,0,2],[10,-.5,2.5],[15,-.5,3.5],[20,-.5,3],[25,-.5,3.5],[30,-.5,3],[35,-.5,3],[40,-.5,3.5],[45,-.5,3.5],[50,-1,3],[55,0,3],[60,-.5,3],[65,0,3.5],[70,-.5,4.5],[74,-1,5],[76,-.5,5],
[-85,-4,-1],[-80,-3,-1],[-75,-2.5,-.5],[-70,-2.5,0],[-65,-2.5,.5],[-60,-2.5,.7],[-55,-2.5,.5],[-50,-2,.8],[-45,-2,1],[-40,-2,.8],[-35,-2,1],[-30,-2,1],[-25,-2,1],[-20,-2,.8],[-15,-2.5,1.5],[-10,-2,1],[-5,-2.5,.8],[0,-3,2],[5,-3,2.5],[12,-3,3],[17,-3,2.5],[22,-3,2.8],[27,-3,3],[32,-3,3.3],[37,-3,3.5],[42,-3,3],[47,-3,3.5],[52,-3,2.5],[57,-3,3],[62,-3,3.5],[67,-3,4],[72,-3,4.5],[77,-3,5],
[-85,-7.5,-1],[-81,-6,-1],[-76,-5.5,-1],[-71,-5.5,-.5],[-66,-5.5,.3],[-61,-5.5,.5],[-56,-5.5,.5],[-51,-5,1],[-46,-5,1],[-41,-5,.8],[-36,-5,1],[-31,-5,1.2],[-26,-5,1],[-21,-5,.8],[-16,-5,1],[-11,-5,1.5],[-6,-5.5,2],[-1,-6,2.2],[4,-6,2.5],[13,-6,3],[18,-6,2.8],[23,-6,3],[28,-6,3],[33,-6,3],[38,-6,3.5],[43,-6,4],[48,-6,3.5],[53,-6,3.5],[58,-6,4],[63,-6,4.2],[68,-6,4.3],[73,-6,4.5],[78,-6,5.5],[81,-6,7],
[-84,-10,-1],[-79,-9,-1],[-74,-8.5,-.8],[-70,-8,0],[-65,-9,.5],[-60,-8.5,1],[-55,-8.5,1],[-50,-8.5,1.5],[-45,-8,1],[-40,-8,1],[-35,-8.5,.8],[-30,-8.5,1],[-25,-8,1.7],[-20,-8,1],[-15,-8,1.5],[-10,-8.5,1],[-5,-8.5,2],[0,-9,3],[5,-9,2.8],[10,-9,2.8],[15,-9,2.8],[20,-9,3],[25,-9,3],[30,-9,3.5],[35,-9,4],[40,-9,4],[45,-9,4],[50,-9,4],[55,-9,4],[60,-9,4.5],[65,-9,4.5],[70,-9,5],[75,-9,5],[80,-8.5,7],
[-32,-12,1.5],[-27,-11.5,1.5],[-22,-11.5,1],[-18,-12,1.5],[-13,-12,1],[-8,-12,2],[-3,-12,1.5],[2,-12,3.5],[7,-12,2.5],[12,-12,1],[17,-12,3],[22,-12,3],[27,-12,3],[32,-12,4],[37,-12,4],[42,-12,3.5],[47,-12,4.5],[52,-12,4.5],[57,-12,5.5],[62,-12,6],[67,-12,4.5],[72,-12,4.5],[77,-12,5],
[-36,-15,1.5],[-29,-15,1],[-24,-15,1.5],[-18,-15,1.5],[-13,-15,1.5],[-8,-15,2],[-3,-15,2],[2,-15,1],[7,-15,3],[12,-15,2],[17,-15,2.5],[22,-15,3],[27,-15,3],[32,-15,3.5],[37,-15,3.5],[42,-15,3.5],[47,-15,4],[52,-15,4],[57,-15,5],[62,-15,5.5],[67,-15,5],[72,-15,5],[77,-15,4.5],
[-29,-18,1.5],[-24,-18,2],[-18,-18,1.5],[-7,-18,1.5],[-2,-18,2.5],[3,-18,2],[7,-18,0],[12,-18,1.5],[17,-18,1.8],[22,-18,2],[27,-18,3],[32,-18,3.5],[37,-18,3.5],[42,-18,3.5],[47,-18,4],[52,-18,4.2],[57,-18,4.5],[62,-18,4.5],[67,-18,5],[72,-18,5],[77,-18,5],
[-28,-21,1.5],[-23,-21,2],[-17,-21,1.5],[-12,-22,2],[-9,-20.7,2],[3,-21,2],[8,-21,1.5],[13,-21,2],[18,-21,2.5],[23,-21,2],[28,-21,2.5],[33,-21,3],[38,-21,3.5],[43,-21,3.5],[48,-21,3],[53,-21,5],[58,-21,4.5],[63,-21,4.5],[68,-21,6],[73,-21,5.5],[76,-22,4.5],
[3.5,-23.2,2],[10,-24.5,1.5],[15,-24,1.8],[20,-24,2.5],[25,-24,3],[30,-24,3],[35,-24,4],[40,-24,3.5],[46,-23,3],[50,-24,3.5],[55,-24,5],[60,-24,6],[63,-23,6.5],[69,-24,6.5],
[16.3,-26.4,3],[27.9,-26.4,4.5],[33.6,-28.2,2.5],[21.4,-30.3,2.5],[28.5,-29.6,3.5],[36.2,-33.5,5],[42,-34.2,3.8],[45.8,-33.5,3.5],[39.4,-31.4,3.5],[44.5,-28.5,3],[39.4,-25,3],[35.6,-22.5,5],[49,-25.3,4],[55.4,-26,5],[60.5,-27,4],[54.8,-30,4.5],[58.6,-31,6],[49.7,-30,3.5],
[-101,-22.5,-1.5],[-100.3,-25,-3.5],[-104.4,-26.8,-3],[-104.4,-29.2,-2.5],[-101,-32,-2],[-96,-33.5,-1.5],[-96.7,-27,-2],[-98,-30,-2.5],[-91,-30.7,-3],[-91.5,-33.1,-2.5],[-86.4,-33.1,-1],[-87,-35.6,0],[-81,-31.4,-1.5],[-80,-28.5,-1],[-76.7,-26.4,-1],[-86.4,-25,-1],[-81,-25.7,-1.3],[-88.3,-22.9,-.8],[-85,-21.4,-1],[-81,-22.9,-.8],[-76,-22.9,-1],[-68.4,-21.4,0],[-73.6,-20.7,-.5],[-94,-18.6,-2.3],[-96,-16.8,-1.5],[-89,-15,-1],[-89,-18.6,-.5],[-81,-16.5,-1.2],[-80,-19.3,-1],[-75,-17.9,-.8],[-73.6,-14.4,-.6],[-67.7,-16.1,1.2],[-68.4,-10.1,0],[-85.3,-12.2,-.9],[-78.7,-12.2,-1],[-72,-10.1,0],[-64,-11,.5],
[-58.8,-18.6,1.5],[-58,-14.7,-.5],[-50.4,-14.4,-.8],[-47.2,-14,.5],[-51,-22.3,2],[-60.7,-10.8,1],[-53,-10.8,1.5],[-45,-10,1],[-37.6,-10.5,0],[-35.6,-15.1,1.8],[-28.6,-10.1,2],[-26,-15,1],
[-28.6,-18.6,1.5],[-28.6,-22.5,2],[-24,-24.3,1.5],[-18.4,-24.6,1.6],[-11.3,-25,2],[-17,-21,1.5],[-24.8,-28.9,3],[-24.8,-31,3],[-18.4,-32.8,2.5],[-17.7,-30.7,2.5],[-21.6,-32.4,2.5],
[-4.9,-27,2],[-.4,-27,2],[2.8,-28.5,2.5],[-4.9,-30.7,2],[3.5,-31.7,3.5],[-1,-33.1,2],[-.8,-36,2.5],[8,-42.6,3],[11.2,-42.7,3],[13.7,-42.7,3.5],[11.8,-43.8,3],
[9.9,-25,1.5],[32,-26,3],
];

const nnFill: P[] = [
[-6,42.5,2.5],[-3,41,2.5],[2,42.5,2.5],[6,42,2],[11,41.5,3],[16,42,3],[23,42.5,2],[27,42,2.5],[32,41.5,2.5],[36,42,2],[43,42,2.5],[45.5,41,3],
[-19,37.5,2.5],[-14,39.5,3],[-9,38.5,2.8],[-3.5,39,2.5],[1,38.5,2],[6,39,3],[11,38.7,3.5],[15,38.5,3],[20,39,3],[23,39,3],[28,38.5,2.5],[33,38.5,3],[38,38.5,3],[43,38,3],[48,38,3],
[-25,35,2.5],[-20,36.5,2.5],[-14.5,36.5,2.5],[-9,36,2.5],[-4,35.5,2],[1,35.5,2],[5.5,35,2.5],[10,35,3],[15,35.5,3],[20,35.5,3],[25,35,3],[30,35,3],[34.5,35,3],[40,35,3],[44.5,34.5,3],
[-28,33.5,2.5],[-23,33,2.3],[-18,32.5,2.2],[-12,33,2],[-6,32.5,2],[-1,32,2],[4,32.5,2.5],[10,32,3],[15,32,3],[20,32.5,3],[24,32,3],[29,32,3],[34,32,3],[39,32,3],[44,31,3],[48,31,3],
[-37,30,2.5],[-33,29.5,2.5],[-28,29.5,2.5],[-23,29.5,2.5],[-18,29.5,2],[-12,29.5,2],[-7,29.5,2],[-2,29.5,2],[3,29,2.5],[8,29,2.5],[13,29,3],[18,29,3],[23,29,3],[28,28.5,3],[33,28.5,3],[38,28.5,3],[43,28,3],
[-42,26,2.2],[-37,26.5,2.5],[-33,26.5,2],[-28,26.5,2],[-23,26.5,2.2],[-18,26.5,1.5],[-12,26.5,2],[-7,26.5,1.5],[-2,26.5,1.5],[3,26,2.5],[8,26,2.5],[13,26,2.5],[18,25.5,2.5],[23,26,3],[28,25.5,3],[33,25.5,3],[38,25.5,3],[43,25,3],[47,26,2.5],[52,25.5,3.5],
[-47,23.5,2],[-41,23.5,2],[-36,23.5,2],[-31,23.5,1.8],[-26,23.5,1.8],[-21,23.5,1.5],[-16,23.5,1.5],[-11,23.5,1.5],[-6,23.5,1.7],[-1,23.5,1.8],[4,23,2.5],[9,23,2.5],[14,23,3],[19,22.5,2.5],[24,22.8,3],[29,22.5,3],[34,22.5,3],[39,22.5,3],[44,22.5,3],[48,22.5,3],[53,22.5,3.2],[58,21.5,3],[61,21,2.8],
[-51,20.5,1.8],[-46,20.5,1.5],[-41,20.5,1.5],[-36,20.5,1.3],[-31,20.5,1.5],[-26,20.5,2],[-21,20.5,1.5],[-15,20.5,1.5],[-10,20.5,1.5],[-5,20.5,1.8],[0,20.5,2],[5,20,2.5],[10,20,2.5],[15,20,3],[20,20,3.3],[25,20,3],[30,19.5,3],[35,20,3],[39,19.5,3],[44,19.5,3],[48,19.5,3.2],[53,19.5,3.3],[58,19.5,3],[63,19,2.7],
[-58,16.5,2],[-54,16.5,1.8],[-49,17,1.5],[-44,17.5,1.8],[-39,17.5,1.5],[-34,17.5,1.5],[-29,17.5,2],[-24,17.5,1.5],[-19,17.5,1.3],[-14,17.5,1.7],[-9,17.5,1.7],[-4,17,1.7],[1,17,2],[6,16.5,2.5],[11,16.5,3],[15,16.5,3],[20,16.5,3],[25,16.5,3],[30,16.5,3.3],[35,16,2.5],[40,16,3.2],[44,16.5,4],[49,16.5,3.5],[54,16.5,3.2],[59,16.5,3],[62,16,3],
[-62,13.5,1],[-58,13.5,1],[-53,14,1.5],[-48,14.5,1.7],[-43,14.5,1.7],[-38,14.5,1.5],[-33,14.5,1.2],[-28,14.5,1.5],[-23,14.5,1.3],[-18,14.5,1.5],[-13,14.5,1.7],[-8,14.5,1.7],[-3,14,1.8],[2,14,1.8],[7,13.5,2],[12,13.5,2.3],[16.5,13.5,2.7],[21,13.5,2.7],[26,13.5,2.5],[31,13.5,2.5],[36,13.5,3],[41,13,4],[46,13.5,3.8],[51,13.5,3.5],[56,13.5,3.5],[61,13,3.7],[66,12.5,4],[70,13,3.7],
[-66,10.5,1],[-62,10.5,.8],[-58,10.5,.8],[-53,11,1.2],[-48,11.5,1.7],[-43,11.5,1.7],[-38,11.5,1.5],[-33,11.5,1.2],[-28,11.5,1.2],[-23,11.5,1.5],[-18,11.5,1.3],[-13,11.5,1.7],[-8,11.5,1.7],[-3,11,1.7],[2,11,1.5],[7,10,1.5],[15,10.5,2.2],[19,10,2.3],[23,10,1.5],[27,10.5,2],[32,10.5,3],[36,11,2.8],[42,10.5,3],[47,10.5,3.5],[52,10.5,3.5],[57,10,3.5],[62,10,4],[66,9.5,4],
[-71,7.7,-.5],[-66,7.5,.8],[-62,7.5,.8],[-58,7.5,.8],[-53,8,1],[-48,8.5,1],[-43,8.5,1.7],[-38,8.5,1.5],[-33,8.5,1.2],[-28,8.5,1],[-23,8.5,1.2],[-18,8.5,1.5],[-13,8.5,1.7],[-8,8.5,1.7],[-3,8.5,1.7],[2,7.5,1.7],[12,7.5,2],[16,7,2],[25,7.5,2],[28,7.5,2.8],[32,7.5,3.5],[36,7.5,3],[41,7.5,2.8],[46,7.5,3],[50,7.5,3],[55,7,3],[59,7,2.8],[64,6.5,3.3],
[-78,4.7,-1],[-74,4.7,-.8],[-69,4.5,0],[-63,4.5,.3],[-58,5,.5],[-53,5.5,.5],[-48,5.5,.5],[-43,5.5,1],[-38,5.5,1],[-33,5.5,1],[-28,5.5,1],[-23,5.5,1.2],[-18,5,1.3],[-12,5.5,1.5],[-7,5.5,1.7],[-2,5,2],[3,4.5,2],[8,4,2.2],[13,3.5,2.2],[18,3.5,2.5],[23,4,2.8],[28,4,3],[33,4,3],[38,4,2.8],[42,4,2.5],[47,4,3],[52,4,3],[57,4,2.8],[62,3.5,3],[67,3.5,3.5],[71,3.5,4],
[-84,1,-1.8],[-79,2,-1.2],[-75,2,-.8],[-70,2,0],[-65,2,.2],[-60,2,.2],[-55,2.5,.7],[-50,2.5,.8],[-45,2.5,.8],[-40,2.5,.7],[-35,2.5,.8],[-30,2.5,1.5],[-25,2,1.2],[-17,2,1.3],[-12,2,1.7],[-7,2,2],[-2,1.5,2],[3,1,2],[8,1,2.2],[13,.5,3],[18,.5,2.8],[23,.5,3],[28,.5,3],[33,.5,2.8],[38,.5,2.8],[43,.5,3],[48,.5,3],[53,1,3],[58,1,2.8],[63,.5,3.2],[68,.5,4],[72,.5,4.5],
[-84,-2.5,-1.2],[-80,-1.5,-1.2],[-75,-1,-.7],[-70,-1,-.2],[-65,-1,.3],[-60,-1,.6],[-55,-1,.6],[-50,-.5,.8],[-45,-.5,.8],[-40,-.5,.8],[-35,-.5,1],[-30,-.5,1],[-25,-.5,1],[-20,-.5,1],[-12,-1,1.5],[-7,-.5,1.5],[-2,-1.5,2],[3,-1.5,2.2],[8,-2,2.7],[13,-2,3],[18,-2,2.8],[23,-2,3],[28,-2,3],[33,-2,3.2],[38,-2,3.5],[43,-2,3.3],[48,-2,3.3],[53,-1.5,2.8],[58,-1.5,3],[63,-1.5,3.3],[68,-1.5,4],[73,-2,4.8],[77,-2,5],
[-83,-5,-1],[-78,-4,-.8],[-73,-4,-.3],[-68,-4,.2],[-63,-4,.6],[-58,-4,.6],[-53,-3.5,.7],[-48,-3.5,.9],[-43,-3.5,.9],[-38,-3.5,.9],[-33,-3.5,1],[-28,-3.5,1],[-23,-3.5,.9],[-18,-3.5,1],[-13,-3.5,1.3],[-8,-3.5,1.2],[-3,-4,1.8],[2,-4.5,2.3],[7,-4.5,2.7],[15,-4.5,2.8],[20,-4.5,3],[25,-4.5,3],[30,-4.5,3.2],[35,-4.5,3.3],[40,-4.5,3.5],[45,-4.5,3.7],[50,-4.5,3.5],[55,-4.5,3.5],[60,-4.5,4],[65,-4.5,4.2],[70,-4.5,4.5],[75,-4.5,5],[79,-4.5,5.5],
[-82,-8,-1],[-77,-7,-.9],[-72,-7,-.3],[-68,-7,.2],[-63,-7,.6],[-58,-7,.8],[-53,-7,1],[-48,-6.5,1.2],[-43,-6.5,.9],[-38,-6.5,.9],[-33,-6.5,1],[-28,-6.5,1.3],[-23,-6.5,1],[-18,-6.5,1.2],[-13,-6.5,1.3],[-8,-7,1.7],[-3,-7.5,2.5],[2,-7.5,2.6],[7,-7.5,2.8],[15,-7.5,2.9],[20,-7.5,3],[25,-7.5,3],[30,-7.5,3.2],[35,-7.5,3.5],[40,-7.5,3.7],[45,-7.5,4],[50,-7.5,3.8],[55,-7.5,3.8],[60,-7.5,4.2],[65,-7.5,4.4],[70,-7.5,4.8],[75,-7.5,5.2],[79,-7.5,6.5],
[-86,-9,-1],[-82,-11,-1],[-77,-10.5,-.9],[-72,-12,-.2],[-69,-12,0],[-65,-12.5,.5],[-56,-11,.8],[-51,-11,.8],[-46,-11,1],[-41,-11,.8],[-35,-11,.9],[-30,-10.5,1.5],[-25,-10,1.8],[-20,-10,1.2],[-15,-10,1.2],[-10,-10.5,1.5],[-5,-10.5,1.5],[0,-10.5,3.2],[5,-10.5,2.6],[10,-10.5,2],[15,-10.5,3],[20,-10.5,3],[25,-10.5,3],[30,-10.5,3.7],[35,-10.5,4],[40,-10.5,3.8],[45,-10.5,4.2],[50,-10.5,4.2],[55,-10.5,4.8],[60,-10.5,5],[65,-10.5,4.5],[70,-10.5,4.8],[75,-10.5,5],[79,-10.5,5.5],
[-84,-14,-1],[-78,-15,-1],[-70,-14,0],[-66,-15,.8],[-55,-13,.3],[-48,-12,.8],[-37,-13,.8],[-34,-13,1.5],[-26,-13.5,1.3],[-20,-13.5,1.2],[-15,-13.5,1.3],[-10,-13.5,1.7],[-5,-13.5,1.8],[0,-13.5,2.3],[5,-13.5,2.8],[10,-13.5,1.5],[15,-13.5,2.8],[20,-13.5,3],[25,-13.5,3],[30,-13.5,3.7],[35,-13.5,3.8],[40,-13.5,3.5],[45,-13.5,4.2],[50,-13.5,4.2],[55,-13.5,5],[60,-13.5,5.5],[65,-13.5,4.8],[70,-13.5,4.8],[75,-13.5,4.8],[79,-15,5],
[-93,-15.5,-1.8],[-91,-19,-2],[-86,-16.5,-1],[-85,-19,-1],[-84,-23,-1],[-77,-20,-.9],[-72,-17,-.6],[-71,-19,-.3],[-34,-17,1.5],[-31,-17,1.3],[-26,-16.5,1.3],[-21,-16.5,1.5],[-16,-16.5,1.5],[-3,-16.5,2.2],[1,-16.5,1.5],[5,-16.5,1.5],[10,-16.5,1.8],[15,-16.5,2.2],[20,-16.5,2.5],[25,-16.5,3],[30,-16.5,3.3],[35,-16.5,3.5],[40,-16.5,3.5],[45,-16.5,3.8],[50,-16.5,4.1],[55,-16.5,4.7],[60,-16.5,5],[65,-16.5,5],[70,-16.5,5],[75,-16.5,4.8],
[-30,-20,1.5],[-26,-19.5,1.8],[-21,-19.5,1.7],[-16,-19.5,1.5],[-5,-20,2],[0,-19.5,2.2],[5,-19.5,1.5],[10,-19.5,1.8],[15,-19.5,2.3],[20,-19.5,2.2],[25,-19.5,2.5],[30,-19.5,3],[35,-19.5,3.5],[40,-19.5,3.5],[45,-19.5,3.5],[50,-19.5,4],[55,-19.5,4.7],[60,-19.5,4.5],[65,-19.5,5],[70,-19.5,5.5],[75,-19.5,5],
[-26,-23,1.8],[-21,-23,1.8],[-15,-23.5,1.8],[5,-22.5,1.8],[10,-22.5,1.8],[15,-22.5,2],[20,-22.5,2.3],[25,-22.5,2.5],[30,-22.5,2.8],[33,-22.5,3.5],[38,-22.5,3.5],[43,-22.5,3.3],[48,-22.5,3.3],[52,-22.5,4],[57,-22.5,4.8],[61,-22.5,5],[65,-22.5,6],[71,-23,6],
[13,-26,2.5],[19,-27,3],[23,-27,3.3],[23,-29,3],[31,-27,3],[36,-26,3],[31,-29.5,3],[34,-31,3.2],[37,-30,3.5],[41,-28,3],[42,-31,3.5],[45,-31,3.3],[37,-27,3],[46,-26,3.5],[52,-26,4],[52,-29,4],[57,-28.5,5],[60,-25,5],[65,-26,6],[43,-26.5,3],[56,-32,5],[50,-27.5,3.5],[47,-28,3.5],
[-103,-24,-2.5],[-102,-27,-2.5],[-99,-27,-2.5],[-102,-29.5,-2.3],[-99,-32,-2],[-94,-30,-2],[-94,-32.5,-2],[-97,-24.5,-2],[-93,-27,-2],[-88,-30,-1.5],[-84,-29,-1],[-85,-27,-1.2],[-83,-31,-1.2],[-84,-33.5,-1],[-89,-27,-1.8],[-78,-28,-1],[-74,-24,-.9],[-78,-25,-1],[-83,-24,-1],[-79,-20.5,-1],[-71,-21.5,-.5],[-89,-35,-.7],[-85,-35,-.5],[-93,-34.5,-1.5],[-90,-25,-1.2],[-87,-20,-1],
[-81,-14,-1],[-76,-15,-.9],[-85,-15.5,-1],
];

// Strongly coloured NN molecules that lie on top of the cloud
const nnAccents: P[] = [
[-105.9,-23.6,-5.2],[-91,-28.2,-3.8],
[86,-11,7.5],[88,-13,7],[84,-13,7],[80,-13,6.5],[84,-8,7],[91,-9.4,9.5],[89,-9.7,7],[87.3,-9,7],[84.2,-7.3,7],[80,-6.2,5.5],[77,-6.2,6.5],[86.7,-11.5,7],[82.4,-12.6,6.5],[87.3,-13.6,7.5],[80.6,-10.1,3.8],
[77,-1.3,5],[76.3,-.2,4.8],[75.1,-26.4,11],[77,-25,8.5],[75.7,-23.6,7.5],[68.4,-24.3,5.5],[73.9,-23.6,7],[70.8,-21.5,6],[69,-18.6,6.5],[54.4,-21.1,5.5],[43.4,-20.7,3.8],
[66,-11.2,7],[62.3,-10.8,6.5],[37.9,19.3,5],[34.9,17.5,1.5],[42.8,13.6,5.5],[52.5,10.4,4],[59.9,9.7,4.5],[72.7,14.3,4],[72,11.9,4.2],[47.7,41,4.5],
[3.5,37,1.5],[8.3,32.7,3.3],[-10.5,33.3,0],[2.5,26.3,3.5],[-23,23,0],[-33.4,23.9,-.3],[-15.8,9.4,-.5],[20.6,17.4,4],[29.4,12.2,-.3],[25.1,9.7,0],[14.5,-.9,.8],[20.8,-6.2,5],[12.3,-13.3,1.5],[-13.3,-12.6,0],[5.6,-20,.7],[16.6,-29.6,-.5],[3.5,-32,3.7],
[45.2,-12,.8],[-5.4,-12.6,-.3],[48.9,-18.3,.8],[-70,6.9,-1.5],[-84,2.6,-3],[-85.3,-7.3,-1],
];

const xTicksA = [-50, -25, 0, 25, 50, 75];
const xTicksB = [-100, -50, 0, 50];
const yTicks = [-60, -40, -20, 0, 20, 40, 60];
const cbarTicks = [-4, -2, 0, 2, 4, 6, 8, 10];
const vMin = -5.4;
const vMax = 11.35;
const fmt = (t: number) => (t < 0 ? "\u2212" + Math.abs(t) : String(t));

const DJ = "'DejaVu Sans'";
const LS = "'Liberation Sans'";

const color = d3.scaleSequential(d3.interpolateViridis).domain([vMin, vMax]);
const y = d3.scaleLinear().domain([-60, 60]).range([675, 110]);
const xA = d3.scaleLinear().domain([-50, 75]).range([236, 860.7]);
const xB = d3.scaleLinear().domain([-100, 50]).range([1003.5, 1413.5]);
const cbarY = d3.scaleLinear().domain([-4, 10]).range([719.3, 75]);

function Panel({ x, data, xTicks, left, right, labelY, xCenter }: any) {
  return (
    <g>
      {data.map((d: P, i: number) => (
        <circle key={i} cx={x(d[0])} cy={y(d[1])} r={9.2} fill={color(d[2])} fillOpacity={0.92} />
      ))}
      <line x1={left} x2={left} y1={40} y2={745} stroke="#000" strokeWidth={4.4} />
      <line x1={left - 2.2} x2={right} y1={742.8} y2={742.8} stroke="#000" strokeWidth={4.4} />
      {yTicks.map((t) => (
        <g key={t}>
          <line x1={left - 7.5} x2={left} y1={y(t)} y2={y(t)} stroke="#000" strokeWidth={3} />
          {labelY && (
            <text x={left - 16} y={y(t) + 7} textAnchor="end" fontFamily={DJ} fontSize={18.5}>{fmt(t)}</text>
          )}
        </g>
      ))}
      {xTicks.map((t: number) => (
        <g key={t}>
          <line x1={x(t)} x2={x(t)} y1={743} y2={750.5} stroke="#000" strokeWidth={3} />
          <text x={x(t)} y={772.5} textAnchor="middle" fontFamily={DJ} fontSize={18.5}>{fmt(t)}</text>
        </g>
      ))}
      <text x={xCenter} y={842.5} textAnchor="middle" fontFamily={LS} fontSize={46}>t-SNE dim. 1</text>
    </g>
  );
}

function Anno({ x: ax, value }: { x: number; value: string }) {
  return (
    <text x={ax} y={109} fontFamily={DJ} fontSize={28.6}>
      {"\u27E8\u0394log"}
      <tspan fontStyle="italic">P</tspan>
      {"\u27E9"}
      <tspan fontStyle="italic" fontSize={20} dy={6}>N</tspan>
      <tspan dy={-6}>{"=" + value}</tspan>
    </text>
  );
}

export default function App() {
  const stops = d3.range(0, 1.0001, 0.05);
  return (
    <svg width={1800} height={850} style={{ position: "absolute", left: 0, top: 0, background: "#fff" }}>
      <defs>
        <linearGradient id="vir" x1="0" x2="0" y1="1" y2="0">
          {stops.map((s) => (
            <stop key={s} offset={s} stopColor={d3.interpolateViridis(s)} />
          ))}
        </linearGradient>
      </defs>
      <Panel x={xA} data={[...gsgUnder, ...gsgPoints]} xTicks={xTicksA} left={131} right={865} labelY xCenter={470} />
      <Panel x={xB} data={[...nnPoints, ...nnFill, ...nnAccents]} xTicks={xTicksB} left={960} right={1548} labelY={false} xCenter={1266} />

      <text x={57} y={35.5} fontFamily={LS} fontWeight="bold" fontSize={43}>A</text>
      <text x={901} y={35.5} fontFamily={LS} fontWeight="bold" fontSize={43}>B</text>
      <text x={171} y={87} fontFamily={LS} fontWeight="bold" fontSize={59}>GSG</text>
      <text x={1004} y={79} fontFamily={LS} fontWeight="bold" fontSize={57}>NN</text>
      <Anno x={562} value="0.81" />
      <Anno x={1318} value="0.17" />
      <text transform="translate(41,397) rotate(-90)" textAnchor="middle" fontFamily={LS} fontSize={46}>t-SNE dim. 2</text>

      <rect x={1619.2} y={15.8} width={38.5} height={767.5} fill="url(#vir)" stroke="#000" strokeWidth={5} />
      {cbarTicks.map((t) => (
        <g key={t}>
          <line x1={1659} x2={1666} y1={cbarY(t)} y2={cbarY(t)} stroke="#000" strokeWidth={4} />
          <text x={1672.7} y={cbarY(t) + 14.3} fontFamily={DJ} fontSize={36.5}>{fmt(t)}</text>
        </g>
      ))}
      <text transform="translate(1784,408) rotate(-90)" textAnchor="middle" fontFamily={LS} fontSize={47}>Experimental log P</text>
    </svg>
  );
}
